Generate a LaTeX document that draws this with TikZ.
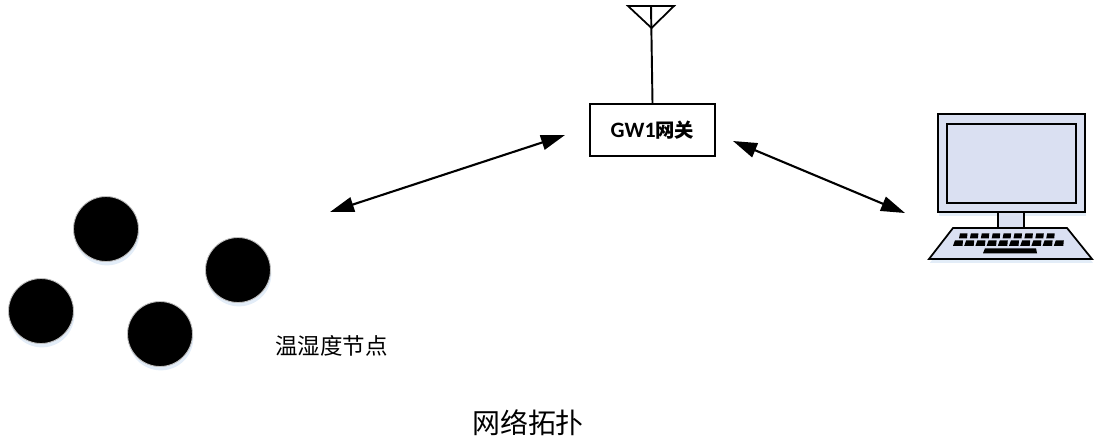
\documentclass[tikz,border=0pt]{standalone}
\usepackage{fontspec}
\setmainfont{Noto Sans CJK SC}
\newfontfamily\latinfont{Carlito}
\usetikzlibrary{arrows.meta,shadows}
\definecolor{screenfill}{HTML}{DAE0F2}
\definecolor{shadowblue}{HTML}{DCE8F6}
\tikzset{
    softshadow/.style={drop shadow={shadow xshift=0.5pt,shadow yshift=-2.2pt,fill=shadowblue,opacity=0.8}},
    sensor/.style={circle,fill=black,draw=black!25,line width=0.5pt,minimum size=1.3cm,inner sep=0pt,softshadow},
    gateway/.style={draw,line width=1pt,fill=white,minimum width=2.5cm,minimum height=1.04cm,inner sep=0pt,font=\bfseries\fontsize{11pt}{13pt}\selectfont},
    link/.style={{Triangle[length=0.48cm,width=0.3cm]}-{Triangle[length=0.48cm,width=0.3cm]},line width=1.2pt},
    pcpart/.style={draw,line width=1pt,fill=screenfill,line join=miter}
}
\begin{document}
\begin{tikzpicture}[x=0.02cm,y=-0.02cm]
    \useasboundingbox (0,0) rectangle (1094,441);

    % sensors
    \node[sensor] (s1) at (106,229) {};
    \node[sensor] (s2) at (238,270) {};
    \node[sensor] (s3) at (41,311) {};
    \node[sensor] (s4) at (160,334) {};
    \node[font=\fontsize{12.8pt}{15pt}\selectfont] (sensorlabel) at (331.5,346) {温湿度节点};

    % gateway and antenna
    \node[gateway] (gw) at (652.5,130) {{\latinfont\fontsize{12.5pt}{13pt}\selectfont GW1}网关};
    \coordinate (apex) at (651.5,28);
    \coordinate (mast) at (651,6);
    \draw[line width=1pt,line join=miter] (628,6) -- (674,6) -- (apex) -- cycle;
    \draw[line width=1.1pt] (mast) -- (gw.north);

    % computer
    \draw[pcpart,softshadow] (953,228) -- (1067,228) -- (1092,259) -- (929,259) -- cycle;
    \draw[pcpart,softshadow] (938,114) rectangle (1085,212);
    \draw[pcpart] (947,124) rectangle (1076,203);
    \draw[pcpart] (998,212) rectangle (1024,228);
    \foreach \k in {0,...,8}
        \fill ({960+\k*10.9},233.3) -- ({967.5+\k*10.9},233.3) -- ({967+\k*10.9},238.3) -- ({959+\k*10.9},238.3) -- cycle;
    \foreach \k in {0,...,9}
        \fill ({955+\k*11.2},240.3) -- ({963+\k*11.2},240.3) -- ({962.5+\k*11.2},245.8) -- ({953+\k*11.2},245.8) -- cycle;
    \fill (985,248.3) -- (1036,248.3) -- (1037,253.3) -- (983,253.3) -- cycle;
    \coordinate (pcend) at (905,213);
    \coordinate (gwright) at (733,141);
    \coordinate (gwleft) at (565,135);
    \coordinate (sensorend) at (330,212);

    % links
    \draw[link] (sensorend) -- (gwleft);
    \draw[link] (gwright) -- (pcend);

    \node[font=\fontsize{15.9pt}{19pt}\selectfont] (title) at (528,423) {网络拓扑};
\end{tikzpicture}
\end{document}
